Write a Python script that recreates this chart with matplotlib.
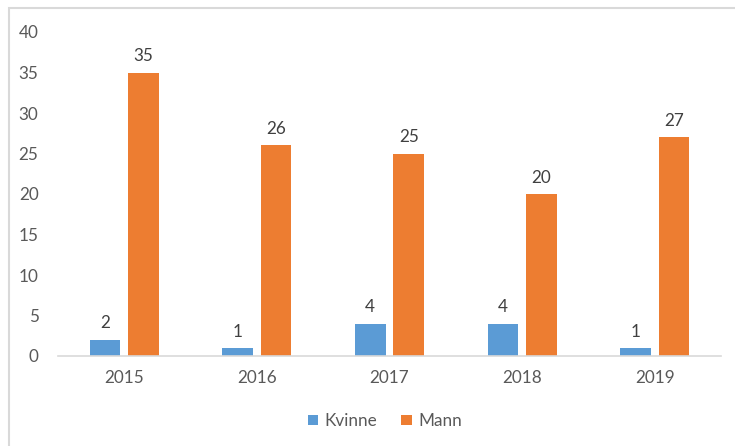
import matplotlib
matplotlib.use("Agg")
import matplotlib.pyplot as plt
import numpy as np
from matplotlib.patches import Rectangle

years = ["2015", "2016", "2017", "2018", "2019"]
kvinne = [2, 1, 4, 4, 1]
mann = [35, 26, 25, 20, 27]
yticks = [0, 5, 10, 15, 20, 25, 30, 35, 40]

plt.rcParams['font.family'] = ['Lato', 'DejaVu Sans']
txt = '#595959'

fig = plt.figure(figsize=(7.35, 4.46), dpi=100)
ax = fig.add_axes([58/735, 90/446, (721-58)/735, (356-32)/446])

x = np.arange(len(years))
w = 0.23
off = 0.145
b1 = ax.bar(x - off, kvinne, w, color='#5B9BD5', label='Kvinne')
b2 = ax.bar(x + off, mann, w, color='#ED7D31', label='Mann')
for bars in (b1, b2):
    for r in bars:
        ax.annotate(f"{int(r.get_height())}", (r.get_x() + r.get_width()/2, r.get_height()),
                    xytext=(0, 6), textcoords='offset points', ha='center', va='bottom',
                    fontsize=12.3, color='#404040')

ax.set_xlim(-0.5, len(years) - 0.5)
ax.set_ylim(0, 40)
ax.set_yticks(yticks)
ax.set_xticks(x)
ax.set_xticklabels(years)
ax.tick_params(axis='both', length=0, labelsize=12.3, labelcolor=txt)
ax.tick_params(axis='y', pad=14)
ax.tick_params(axis='x', pad=10)
for s in ['top', 'right', 'left']:
    ax.spines[s].set_visible(False)
ax.spines['bottom'].set_color('#d9d9d9')
ax.spines['bottom'].set_linewidth(1.2)

leg = fig.legend(handles=[b1, b2], labels=['Kvinne', 'Mann'], loc='center',
                 bbox_to_anchor=(385/735, 1 - 421/446), ncol=2, frameon=False,
                 fontsize=12.3, handlelength=0.6, handleheight=0.6, handletextpad=0.4,
                 columnspacing=1.4)
for t in leg.get_texts():
    t.set_color(txt)

fig.patches.append(Rectangle((9/735, -0.1), 1.2, 1.1 - 8/446 + 0.0, transform=fig.transFigure,
                             fill=False, edgecolor='#d9d9d9', linewidth=1.5))

fig.savefig('out.png', dpi=100)
